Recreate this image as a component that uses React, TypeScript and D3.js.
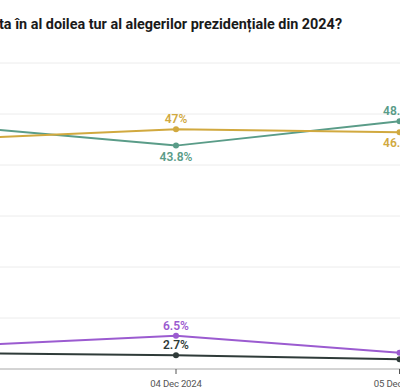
import React from "react";
import * as d3 from "d3";

const title = "ta în al doilea tur al alegerilor prezidențiale din 2024?";
const dates = ["2024-12-03", "2024-12-04", "2024-12-05"];
const tickLabels = ["03 Dec 2024", "04 Dec 2024", "05 Dec 2024"];
const seriesNames = ["A", "B", "C", "D"];
const greenValues = [47.7, 43.8, 48.6];
const yellowValues = [45.1, 47, 46.4];
const purpleValues = [4.5, 6.5, 3.2];
const darkValues = [3.1, 2.7, 1.9];
const yTicks = [0, 10, 20, 30, 40, 50, 60];
// label placement per point: "a" above, "b" below, "" none
const greenLabelPos = ["", "b", "a"];
const yellowLabelPos = ["", "a", "b"];
const purpleLabelPos = ["", "a", ""];
const darkLabelPos = ["", "a", ""];

const colors = ["#5a9c88", "#d1a93f", "#9b5bd0", "#2f3b39"];

export default function App() {
  const W = 400, H = 390;
  const parse = d3.timeParse("%Y-%m-%d");
  const xDates = dates.map((d) => parse(d) as Date);
  const x = d3.scaleTime().domain([xDates[1], xDates[2]]).range([176, 399.5]);
  const y = d3.scaleLinear().domain([0, 60]).range([369, 63]);
  const series = [
    { name: seriesNames[0], values: greenValues, pos: greenLabelPos, color: colors[0] },
    { name: seriesNames[1], values: yellowValues, pos: yellowLabelPos, color: colors[1] },
    { name: seriesNames[2], values: purpleValues, pos: purpleLabelPos, color: colors[2] },
    { name: seriesNames[3], values: darkValues, pos: darkLabelPos, color: colors[3] },
  ];
  const line = d3
    .line<number>()
    .x((_, i) => x(xDates[i]))
    .y((v) => y(v));
  const fmt = (v: number) => `${v}%`;
  const font = "Roboto, 'Noto Sans', sans-serif";
  return (
    <svg
      width={W}
      height={H}
      style={{ position: "absolute", left: 0, top: 0, background: "#fff" }}
      fontFamily={font}
    >
      <text x={-1} y={29} fontSize={14.4} fontWeight={700} fill="#1a1a1a">
        {title}
      </text>
      {yTicks.slice(1).map((t) => (
        <line key={t} x1={-100} x2={W + 100} y1={y(t)} y2={y(t)} stroke="#ececec" strokeWidth={1} />
      ))}
      <line x1={-100} x2={W + 100} y1={y(0)} y2={y(0)} stroke="#a8a8a8" strokeWidth={1} />
      {xDates.map((d, i) => (
        <g key={i} transform={`translate(${x(d)},${y(0)})`}>
          <line y1={0} y2={5} stroke="#555" strokeWidth={1} />
          <text y={17.5} textAnchor="middle" fontSize={9.6} letterSpacing={-0.2} fill="#555">
            {tickLabels[i]}
          </text>
        </g>
      ))}
      {series.map((s) => (
        <g key={s.name}>
          <path d={line(s.values) || ""} fill="none" stroke={s.color} strokeWidth={2} />
          {s.values.map((v, i) => (
            <circle key={i} cx={x(xDates[i])} cy={y(v)} r={3} fill={s.color} />
          ))}
          {s.values.map((v, i) =>
            s.pos[i] ? (
              <text
                key={"l" + i}
                x={x(xDates[i])}
                y={s.pos[i] === "a" ? y(v) - 6 : y(v) + 15}
                textAnchor="middle"
                fontSize={12}
                fontWeight={600}
                fill={s.color}
              >
                {fmt(v)}
              </text>
            ) : null
          )}
        </g>
      ))}
    </svg>
  );
}
